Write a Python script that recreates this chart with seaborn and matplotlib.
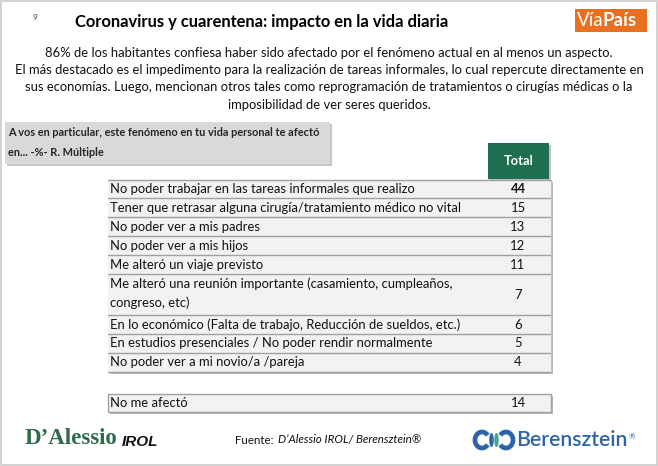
import matplotlib
matplotlib.use("Agg")
import matplotlib.pyplot as plt
from matplotlib.patches import Rectangle, Arc, Ellipse
import seaborn as sns

sns.set_theme(style="white")
plt.rcParams['font.family'] = ['Lato', 'DejaVu Sans']

# ---------------- data ----------------
page_number = "9"
title = "Coronavirus y cuarentena: impacto en la vida diaria"
summary_lines = [
    "86% de los habitantes confiesa haber sido afectado por el fenómeno actual en al menos un aspecto.",
    "El más destacado es el impedimento para la realización de tareas informales, lo cual repercute directamente en",
    "sus economías. Luego, mencionan otros tales como reprogramación de tratamientos o cirugías médicas o la",
    "imposibilidad de ver seres queridos.",
]
question_lines = ["A vos en particular, este fenómeno en tu vida personal te afectó",
                  "en... -%- R. Múltiple"]
column_header = "Total"
categories = [
    "No poder trabajar en las tareas informales que realizo",
    "Tener que retrasar alguna cirugía/tratamiento médico no vital",
    "No poder ver a mis padres",
    "No poder ver a mis hijos",
    "Me alteró un viaje previsto",
    "Me alteró una reunión importante (casamiento, cumpleaños,\ncongreso, etc)",
    "En lo económico (Falta de trabajo, Reducción de sueldos, etc.)",
    "En estudios presenciales / No poder rendir normalmente",
    "No poder ver a mi novio/a /pareja",
]
values = [44, 15, 13, 12, 11, 7, 6, 5, 4]
other_category = "No me afectó"
other_value = 14
source_prefix = "Fuente: "
source_text = "D’Alessio IROL/ Berensztein®"

# ---------------- figure ----------------
W, H = 658, 466
fig = plt.figure(figsize=(W / 100, H / 100), dpi=100)
ax = fig.add_axes([0, 0, 1, 1])
ax.set_xlim(0, W)
ax.set_ylim(H, 0)
ax.axis("off")
fig.canvas.draw()


def px_width(t):
    fig.canvas.draw()
    return t.get_window_extent().width


# outer frame
ax.add_patch(Rectangle((1, 1), W - 2, H - 2, fill=False, ec="#c9c9c9", lw=1.2))

# page number & title
ax.text(35, 18, page_number, fontsize=6, color="#444444", ha="center", va="center")
ax.text(262, 22, title, fontsize=11.9, fontweight="bold", color="black", ha="center", va="center")

# VíaPaís logo
ax.add_patch(Rectangle((575, 9), 72, 23, color="#e8701e", lw=0))
ax.text(604, 21, "Vía", fontsize=13.5, color="white", ha="right", va="center")
ax.text(602, 21, "País", fontsize=13.5, color="white", fontweight="bold", ha="left", va="center")

# summary paragraph
for i, line in enumerate(summary_lines):
    ax.text(329, 53 + i * 17.2, line, fontsize=9.4, color="#111111", ha="center", va="center")

# question box with shadow
ax.add_patch(Rectangle((7, 124), 325, 42, color="#9a9a9a", alpha=0.55, lw=0))
ax.add_patch(Rectangle((5, 122), 325, 42, color="#d9d9d9", lw=0))
ax.text(8, 133, question_lines[0], fontsize=7.9, fontweight="bold", ha="left", va="center")
ax.text(8, 152, question_lines[1], fontsize=7.9, fontweight="bold", ha="left", va="center")

# column header
x0, x1 = 108, 551
vx = 518
ax.add_patch(Rectangle((489, 145), 62, 35, color="#888888", alpha=0.5, lw=0))
ax.add_patch(Rectangle((488, 143), 61, 36, color="#1f6e4f", lw=0))
ax.text(518.5, 161, column_header, fontsize=9.3, fontweight="bold", color="white", ha="center", va="center")

# table rows
fs = 9.4
row_h = 18.9
extra_line = 22.2
y = 179.5
tops = []
heights = []
for cat in categories:
    n = cat.count("\n") + 1
    h = row_h + extra_line * (n - 1)
    tops.append(y)
    heights.append(h)
    y += h
bottom = y

ax.add_patch(Rectangle((x0 + 2, tops[0] + 2), x1 - x0, bottom - tops[0], color="#8a8a8a", alpha=0.6, lw=0))
ax.add_patch(Rectangle((x0, tops[0]), x1 - x0, bottom - tops[0], color="#f2f2f2", lw=0))
for i, (cat, val, t, h) in enumerate(zip(categories, values, tops, heights)):
    ax.plot([x0, x1], [t, t], color="#a0a0a0", lw=1)
    lines = cat.split("\n")
    if len(lines) == 1:
        ax.text(110, t + h / 2, cat, fontsize=fs, ha="left", va="center", color="#111111")
    else:
        for k, ln in enumerate(lines):
            ax.text(110, t + 10 + k * 19, ln, fontsize=fs, ha="left", va="center", color="#111111")
    ax.text(vx, t + h / 2, str(val), fontsize=fs, ha="center", va="center",
            fontweight="bold" if i == 0 else "normal", color="#111111")
ax.plot([x0, x1], [bottom, bottom], color="#a0a0a0", lw=1)
ax.plot([x1, x1], [tops[0], bottom], color="#c0c0c0", lw=0.8)

# "No me afectó" row
ot, oh = 393.5, 18.9
ax.add_patch(Rectangle((x0 + 2, ot + 2), x1 - x0, oh, color="#8a8a8a", alpha=0.6, lw=0))
ax.add_patch(Rectangle((x0, ot), x1 - x0, oh, color="#f2f2f2", ec="#a0a0a0", lw=1))
ax.text(110, ot + oh / 2, other_category, fontsize=fs, ha="left", va="center", color="#111111")
ax.text(vx, ot + oh / 2, str(other_value), fontsize=fs, ha="center", va="center", color="#111111")

# footer: D'Alessio IROL logo
ax.text(25, 439, "D’Alessio", fontsize=16.5, fontweight="bold", color="#2e6b4b",
        family=["Liberation Serif", "DejaVu Serif"], ha="left", va="center")
ax.text(122, 442, "IROL", fontsize=11, fontweight="bold", style="italic", color="#111111",
        family=["Liberation Sans", "DejaVu Sans"], ha="left", va="center")

# source
t1 = ax.text(235, 440, source_prefix, fontsize=8.3, ha="left", va="center", color="#111111")
w1 = px_width(t1)
ax.text(235 + w1 + 1, 440, source_text, fontsize=8.3, style="italic", ha="left", va="center",
        color="#111111")

# Berensztein logo
ax.add_patch(Arc((482, 440), 14, 16, theta1=40, theta2=320, color="#2e64a8", lw=3.4))
ax.add_patch(Ellipse((491.5, 440), 4.5, 14, color="#2e64a8", lw=0))
ax.add_patch(Ellipse((496.5, 440), 4.5, 14, color="#4aa38c", lw=0))
ax.add_patch(Arc((506, 440), 14, 16, theta1=220, theta2=500, color="#2e64a8", lw=3.4))
tb = ax.text(516, 440, "Berensztein", fontsize=15.3, color="#2e64a8", fontweight="semibold",
             ha="left", va="center")
wb = px_width(tb)
ax.text(516 + wb + 1, 437, "®", fontsize=5.5, color="#2e64a8", ha="left", va="center")

fig.savefig("out.png", dpi=100)
